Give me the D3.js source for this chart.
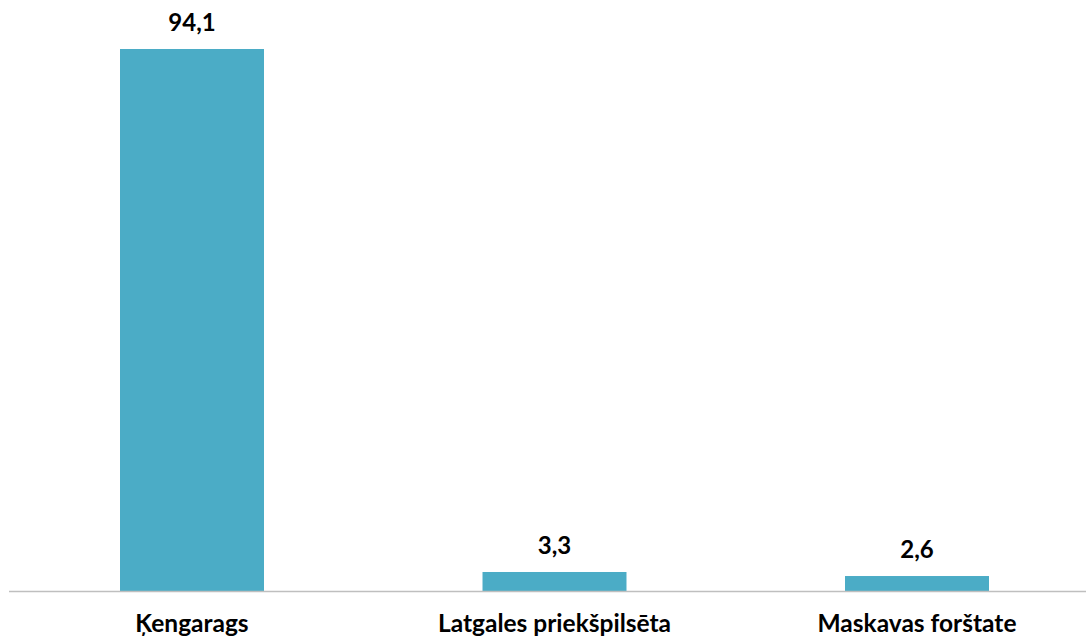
<!DOCTYPE html>
<html>
<head>
<meta charset="utf-8">
<script src="https://cdn.jsdelivr.net/npm/d3@7"></script>
<style>
html,body{margin:0;padding:0;background:#fff;}
svg{display:block;}
</style>
</head>
<body>
<svg id="chart" width="1086" height="637"></svg>
<script>
const categories = ["Ķengarags", "Latgales priekšpilsēta", "Maskavas forštate"];
const values = [94.1, 3.3, 2.6];
const valueLabels = ["94,1", "3,3", "2,6"];

const svg = d3.select("#chart");
const font = "Lato, 'Open Sans', sans-serif";

const pad = 0.6028;
const x = d3.scaleBand().domain(categories).range([10.75, 1098.25])
  .paddingInner(pad).paddingOuter(pad / 2);
const y = d3.scaleLinear().domain([0, 94.1]).range([591, 49]);

svg.selectAll("rect.bar").data(values).join("rect")
  .attr("class", "bar")
  .attr("x", (d, i) => x(categories[i]))
  .attr("width", x.bandwidth())
  .attr("y", d => y(d))
  .attr("height", d => y(0) - y(d))
  .attr("fill", "#4BACC6");

const axis = svg.append("g").attr("transform", `translate(0,${y(0)})`)
  .call(d3.axisBottom(x).tickSize(0).tickSizeOuter(0));
axis.select(".domain").attr("stroke", "#BFBFBF").attr("stroke-width", 1.5)
  .attr("d", `M9,0.5H1086`);
axis.selectAll(".tick text")
  .attr("font-family", font).attr("font-weight", "bold").attr("font-size", 24.5)
  .attr("fill", "#000").attr("y", 41).attr("dy", 0);

svg.selectAll("text.val").data(values).join("text")
  .attr("class", "val")
  .attr("x", (d, i) => x(categories[i]) + x.bandwidth() / 2)
  .attr("y", d => y(d) - 18)
  .attr("text-anchor", "middle")
  .attr("font-family", font).attr("font-weight", "bold").attr("font-size", 24)
  .attr("fill", "#000")
  .text((d, i) => valueLabels[i]);
</script>
</body>
</html>
